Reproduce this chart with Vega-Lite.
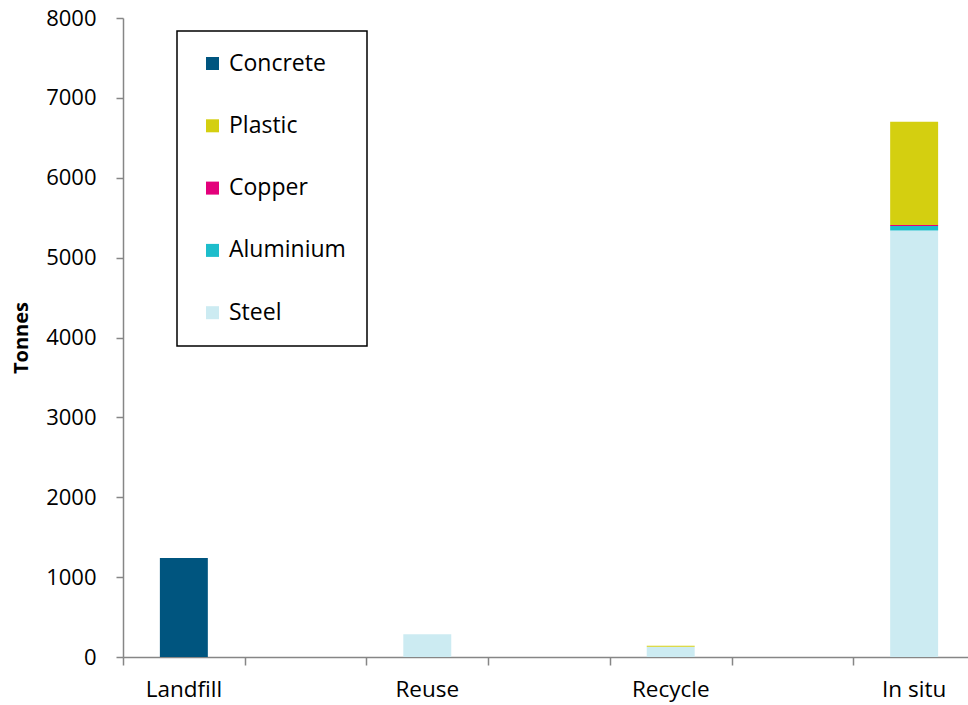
{
  "$schema": "https://vega.github.io/schema/vega-lite/v6.json",
  "autosize": {"type": "none"},
  "padding": {"left": 123, "top": 18, "right": 0, "bottom": 48},
  "width": 845,
  "height": 639,
  "background": "white",
  "config": {
    "font": "Open Sans",
    "view": {"stroke": null},
    "axis": {"labelColor": "#000000", "titleColor": "#000000", "domainColor": "#868686", "tickColor": "#868686", "domainWidth": 1.5, "tickWidth": 1.5, "grid": false}
  },
  "data": {
    "values": [
      {"category": "Landfill", "material": "Concrete", "tonnes": 1240},
      {"category": "Reuse", "material": "Steel", "tonnes": 285},
      {"category": "Recycle", "material": "Steel", "tonnes": 128},
      {"category": "Recycle", "material": "Plastic", "tonnes": 12},
      {"category": "In situ", "material": "Steel", "tonnes": 5340},
      {"category": "In situ", "material": "Aluminium", "tonnes": 55},
      {"category": "In situ", "material": "Copper", "tonnes": 12},
      {"category": "In situ", "material": "Plastic", "tonnes": 1293}
    ]
  },
  "transform": [
    {"calculate": "indexof(['Steel','Aluminium','Copper','Plastic','Concrete'], datum.material)", "as": "stackOrder"}
  ],
  "layer": [
    {
      "mark": {"type": "bar"},
      "encoding": {
        "x": {
          "field": "category",
          "type": "nominal",
          "scale": {"domain": ["Landfill", " ", "Reuse", "  ", "Recycle", "   ", "In situ"], "range": [0, 852], "paddingInner": 0.606, "paddingOuter": 0.303},
          "axis": {"title": null, "labelAngle": 0, "labelFontSize": 22.5, "ticks": false, "labelPadding": 21, "domain": true}
        },
        "y": {
          "field": "tonnes",
          "type": "quantitative",
          "stack": "zero",
          "scale": {"domain": [0, 8000], "nice": false},
          "axis": {"title": "Tonnes", "titleFontSize": 20, "titleFontWeight": "bold", "titlePadding": 14, "labelFontSize": 22, "values": [0,1000,2000,3000,4000,5000,6000,7000,8000], "tickSize": 7, "labelPadding": 20, "format": "d"}
        },
        "color": {
          "field": "material",
          "type": "nominal",
          "scale": {"domain": ["Concrete", "Plastic", "Copper", "Aluminium", "Steel"], "range": ["#00557F", "#D4CF10", "#E3007B", "#1DBDCB", "#CCEBF2"]},
          "legend": {
            "title": null,
            "orient": "none",
            "legendX": 54,
            "legendY": 13,
            "strokeColor": "#000000",
            "fillColor": "white",
            "padding": 21,
            "symbolType": "square",
            "symbolSize": 169,
            "symbolStrokeWidth": 0,
            "symbolOffset": 3,
            "labelFontSize": 23,
            "labelColor": "#000000",
            "labelOffset": 5,
            "rowPadding": 38.3,
            "encode": {"legend": {"update": {"strokeWidth": {"value": 1.5}}}}
          }
        },
        "order": {"field": "stackOrder", "type": "quantitative", "sort": "ascending"}
      }
    },
    {
      "mark": {"type": "bar", "opacity": 0},
      "encoding": {
        "x": {
          "field": "category",
          "type": "nominal",
          "axis": {"title": null, "labels": false, "domain": false, "ticks": true, "tickSize": 8, "tickOffset": -60.857, "orient": "bottom"}
        },
        "y": {"field": "tonnes", "type": "quantitative", "stack": "zero"}
      }
    }
  ],
  "resolve": {"axis": {"x": "independent"}}
}
